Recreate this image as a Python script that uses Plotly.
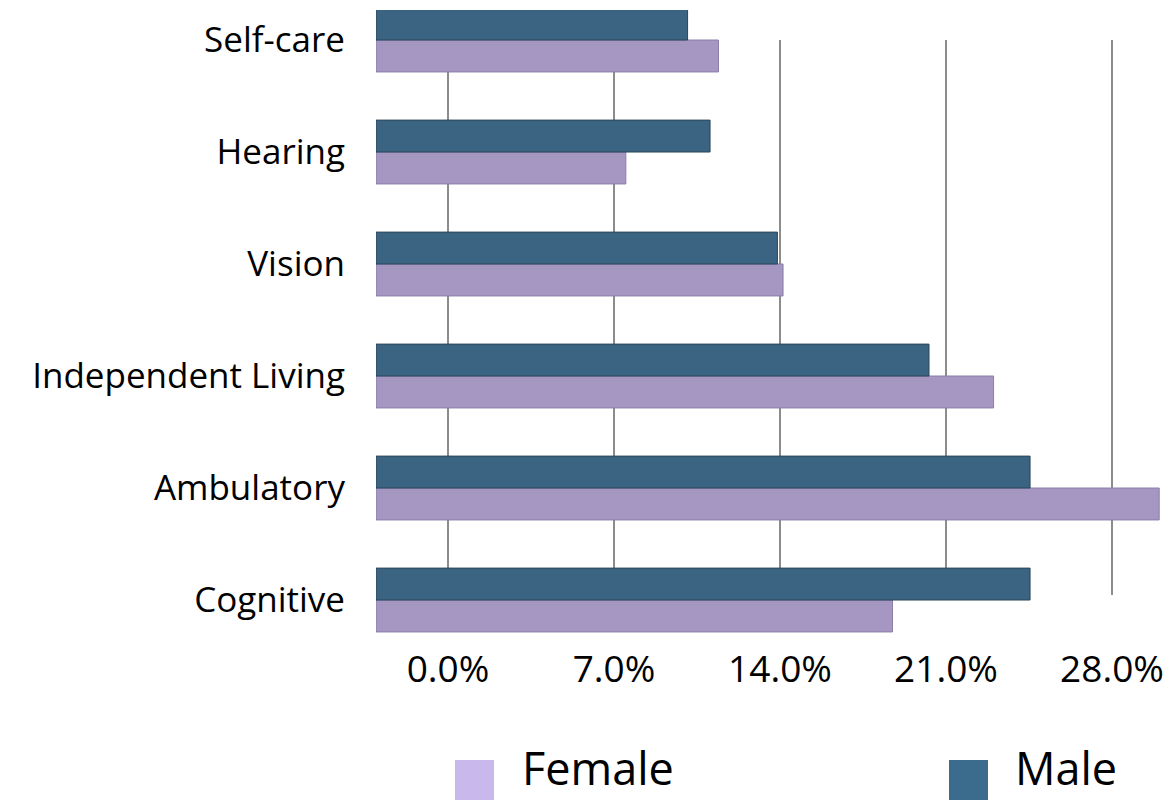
import plotly.graph_objects as go

categories = ['Cognitive', 'Ambulatory', 'Independent Living', 'Vision', 'Hearing', 'Self-care']
female = [18.4, 27.9, 22.0, 14.5, 8.9, 12.2]
male = [23.3, 23.3, 19.7, 14.3, 11.9, 11.1]
tick_vals = [0, 7, 14, 21, 28]
tick_text = ['0.0%', '7.0%', '14.0%', '21.0%', '28.0%']

FEMALE_COLOR = '#a597c2'
MALE_COLOR = '#3a6482'
W, H = 1174, 800
L, R, T, B = 376, 12, 10, 160
FONT = 'Open Sans'


def px_x(px):
    return (px - L) / (W - L - R)


def px_y(py):
    return (H - B - py) / (H - T - B)


fig = go.Figure()
fig.add_trace(go.Bar(y=categories, x=female, orientation='h', name='Female',
                     marker=dict(color=FEMALE_COLOR, line=dict(color='#8a7daa', width=1)),
                     showlegend=False))
fig.add_trace(go.Bar(y=categories, x=male, orientation='h', name='Male',
                     marker=dict(color=MALE_COLOR, line=dict(color='#2a4658', width=1)),
                     showlegend=False))

# back-wall gridlines (perspective: back plane is narrower than the front)
shapes = []
for v in tick_vals:
    shapes.append(dict(type='line', xref='x2', yref='paper', x0=v, x1=v,
                       y0=px_y(595), y1=px_y(40), layer='below',
                       line=dict(color='#8c8c8c', width=2)))

# legend swatches
shapes.append(dict(type='rect', xref='paper', yref='paper', x0=px_x(455), x1=px_x(494),
                   y0=px_y(800), y1=px_y(760), fillcolor='#c9b8ec', line=dict(width=0)))
shapes.append(dict(type='rect', xref='paper', yref='paper', x0=px_x(949), x1=px_x(988),
                   y0=px_y(800), y1=px_y(760), fillcolor='#3b6c8e', line=dict(width=0)))

annotations = [
    dict(text='Female', x=px_x(520), y=px_y(767), xref='paper', yref='paper',
         xanchor='left', yanchor='middle', showarrow=False,
         font=dict(family=FONT, size=45, color='black')),
    dict(text='Male', x=px_x(1013), y=px_y(767), xref='paper', yref='paper',
         xanchor='left', yanchor='middle', showarrow=False,
         font=dict(family=FONT, size=45, color='black')),
]

fig.update_layout(
    width=W, height=H,
    margin=dict(l=L, r=R, t=T, b=B),
    paper_bgcolor='white', plot_bgcolor='white',
    barmode='group', bargap=0.43, bargroupgap=0,
    font=dict(family=FONT, color='black'),
    xaxis=dict(range=[0, 28], showgrid=False, zeroline=False, showticklabels=False,
               showline=False),
    xaxis2=dict(range=[-3.036, 30.108], overlaying='x', side='bottom',
                tickvals=tick_vals, ticktext=tick_text, showgrid=False, zeroline=False,
                showline=False, ticks='', tickfont=dict(family=FONT, size=37),
                ticklabelstandoff=4),
    yaxis=dict(range=[-0.357, 5.268], showgrid=False, zeroline=False, showline=False,
               ticks='', tickfont=dict(family=FONT, size=35), ticklabelstandoff=30),
    shapes=shapes,
    annotations=annotations,
)

fig.write_html('out.html', config={'displayModeBar': False},
               post_script="document.body.style.margin='0';")
